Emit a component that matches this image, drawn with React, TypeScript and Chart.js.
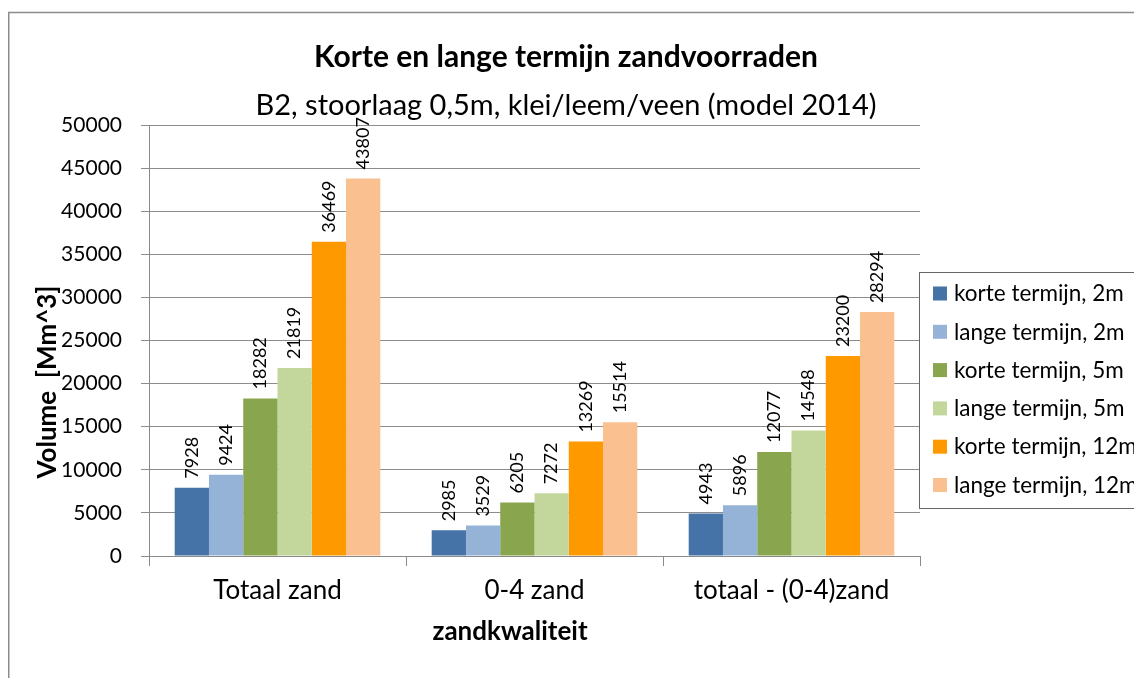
import { useEffect, useRef } from "react";
import { Chart, registerables } from "chart.js";

Chart.register(...registerables);

const categories = ["Totaal zand", "0-4 zand", "totaal - (0-4)zand"];
const seriesNames = [
  "korte termijn, 2m",
  "lange termijn, 2m",
  "korte termijn, 5m",
  "lange termijn, 5m",
  "korte termijn, 12m",
  "lange termijn, 12m",
];
const korte2m = [7928, 2985, 4943];
const lange2m = [9424, 3529, 5896];
const korte5m = [18282, 6205, 12077];
const lange5m = [21819, 7272, 14548];
const korte12m = [36469, 13269, 23200];
const lange12m = [43807, 15514, 28294];
const seriesColors = ["#4572A7", "#95B3D7", "#89A54E", "#C3D69B", "#FF9900", "#FAC090"];

const titleText = "Korte en lange termijn zandvoorraden";
const subtitleText = "B2, stoorlaag 0,5m, klei/leem/veen (model 2014)";
const yTitle = "Volume  [Mm^3]";
const xTitle = "zandkwaliteit";
const yMin = 0;
const yMax = 50000;
const yMinorStep = 2500;
const yMajorStep = 5000;

const FONT = "Lato, 'Noto Sans', sans-serif";

export default function App() {
  const ref = useRef<HTMLCanvasElement | null>(null);

  useEffect(() => {
    const canvas = ref.current;
    if (!canvas) return;
    const allSeries = [korte2m, lange2m, korte5m, lange5m, korte12m, lange12m];

    const decor = {
      id: "decor",
      beforeDraw(chart: any) {
        const ctx = chart.ctx;
        ctx.save();
        ctx.fillStyle = "#ffffff";
        ctx.fillRect(0, 0, chart.width, chart.height);
        ctx.restore();
      },
      afterDraw(chart: any) {
        const ctx = chart.ctx;
        const area = chart.chartArea;
        ctx.save();
        // outer border (extends beyond the visible page on right and bottom)
        ctx.strokeStyle = "#8c8c8c";
        ctx.lineWidth = 1.5;
        ctx.beginPath();
        ctx.moveTo(0.75, chart.height);
        ctx.lineTo(0.75, 4.5);
        ctx.lineTo(chart.width, 4.5);
        ctx.stroke();

        // titles
        ctx.fillStyle = "#000";
        ctx.textAlign = "center";
        ctx.textBaseline = "alphabetic";
        ctx.font = `bold 30px ${FONT}`;
        ctx.fillText(titleText, 558, 59);
        ctx.font = `29px ${FONT}`;
        ctx.fillText(subtitleText, 558, 107);

        // y axis title
        ctx.save();
        ctx.translate(40, 374);
        ctx.rotate(-Math.PI / 2);
        ctx.textBaseline = "middle";
        ctx.font = `bold 26px ${FONT}`;
        ctx.fillText(yTitle, 0, 0);
        ctx.restore();

        // x axis title
        ctx.textBaseline = "middle";
        ctx.font = `bold 26px ${FONT}`;
        ctx.fillText(xTitle, 502, 624);

        // data labels
        ctx.font = `18px ${FONT}`;
        chart.data.datasets.forEach((ds: any, i: number) => {
          const meta = chart.getDatasetMeta(i);
          meta.data.forEach((el: any, j: number) => {
            ctx.save();
            ctx.translate(el.x, el.y - 9);
            ctx.rotate(-Math.PI / 2);
            ctx.textAlign = "left";
            ctx.textBaseline = "middle";
            ctx.fillText(String(ds.data[j]), 0, 0);
            ctx.restore();
          });
        });

        // legend
        const lx = area.right - 1;
        const ly = 264;
        ctx.strokeStyle = "#666";
        ctx.lineWidth = 1;
        ctx.strokeRect(lx + 0.5, ly + 0.5, 300, 236);
        ctx.font = `22.5px ${FONT}`;
        ctx.textAlign = "left";
        ctx.textBaseline = "middle";
        seriesNames.forEach((name, i) => {
          const cy = ly + 21 + i * 38.3;
          ctx.fillStyle = seriesColors[i];
          ctx.fillRect(lx + 14, cy - 6.5, 14, 14);
          ctx.fillStyle = "#000";
          ctx.fillText(name, lx + 35, cy + 1);
        });
        ctx.restore();
      },
    };

    const chart = new Chart(canvas, {
      type: "bar",
      data: {
        labels: categories,
        datasets: allSeries.map((d, i) => ({
          label: seriesNames[i],
          data: d,
          backgroundColor: seriesColors[i],
          borderWidth: 0,
          categoryPercentage: 0.8,
          barPercentage: 1.0,
        })),
      },
      options: {
        responsive: false,
        animation: false,
        devicePixelRatio: 1,
        layout: { padding: { top: 117, right: 222, left: 0, bottom: 0 } },
        plugins: {
          legend: { display: false },
          title: { display: false },
          tooltip: { enabled: false },
        },
        scales: {
          x: {
            afterFit(scale: any) {
              scale.height = 122;
            },
            grid: {
              display: true,
              offset: true,
              drawOnChartArea: false,
              drawTicks: true,
              tickLength: 10,
              color: "#8a8a8a",
            },
            border: { display: true, color: "#8a8a8a" },
            ticks: {
              color: "#000",
              font: { family: FONT, size: 26 },
              padding: 9,
            },
          },
          y: {
            min: yMin,
            max: yMax,
            afterFit(scale: any) {
              scale.width = 141;
            },
            ticks: {
              stepSize: yMinorStep,
              color: "#000",
              font: { family: FONT, size: 21 },
              padding: 19,
              callback: (v: any) => (Number(v) % yMajorStep === 0 ? String(v) : ""),
            },
            grid: {
              tickLength: 8,
              color: (c: any) =>
                c.tick && c.tick.value % yMajorStep === 0 ? "#8c8c8c" : "#c8c8c8",
              tickColor: (c: any) =>
                c.tick && c.tick.value % yMajorStep === 0 ? "#8c8c8c" : "rgba(0,0,0,0)",
            },
            border: { display: true, color: "#8a8a8a" },
          },
        },
      },
      plugins: [decor],
    });
    return () => chart.destroy();
  }, []);

  return (
    <div>
      <canvas ref={ref} width={1134} height={670} style={{ display: "block" }} />
    </div>
  );
}
